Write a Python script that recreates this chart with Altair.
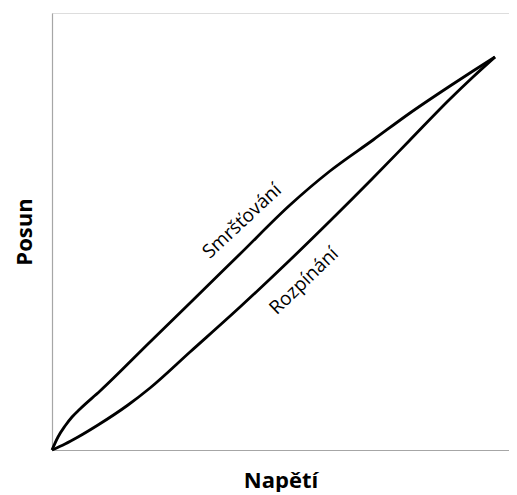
import altair as alt
import pandas as pd

# Upper branch (Smršťování)
up_x = [0, 6, 13, 20, 28, 48, 98, 138, 188, 238, 278, 321, 358, 398, 421, 443]
up_y = [0, 13, 24, 33, 41, 59, 108, 147, 196, 245, 279, 310, 337, 364, 379, 393]
# Lower branch (Rozpínání)
lo_x = [0, 13, 26, 46, 76, 98, 138, 188, 238, 278, 321, 358, 398, 421, 443]
lo_y = [0, 6, 13, 25, 45, 62, 98, 143, 190, 229, 272, 310, 351, 373, 393]

label_text = ["Smršťování", "Rozpínání"]
label_x = [190, 252]
label_y = [229, 169]

rows = []
for i, (x, y) in enumerate(zip(up_x, up_y)):
    rows.append({"x": x, "y": y, "branch": "up", "o": i})
for i, (x, y) in enumerate(zip(lo_x, lo_y)):
    rows.append({"x": x, "y": y, "branch": "lo", "o": i})
df = pd.DataFrame(rows)
labels = pd.DataFrame({"t": label_text, "x": label_x, "y": label_y})

xs = alt.Scale(domain=[0, 457], nice=False, zero=False)
ys = alt.Scale(domain=[0, 437], nice=False, zero=False)

axis_common = dict(labels=False, ticks=False, grid=False, domainColor="#a6a6a6",
                   domainWidth=1.2, titleFont="Open Sans", titleFontWeight="bold",
                   titleColor="black")

lines = alt.Chart(df).mark_line(color="black", strokeWidth=2.8, interpolate="monotone").encode(
    x=alt.X("x:Q", scale=xs, axis=alt.Axis(title="Napětí", titleFontSize=22, titlePadding=20, **axis_common)),
    y=alt.Y("y:Q", scale=ys, axis=alt.Axis(title="Posun", titleFontSize=22, titlePadding=16, **axis_common)),
    detail="branch:N",
    order="o:Q",
)

text1 = alt.Chart(labels.iloc[[0]]).mark_text(
    font="Open Sans", fontSize=19, angle=317, align="center", baseline="middle", color="black"
).encode(x=alt.X("x:Q", scale=xs), y=alt.Y("y:Q", scale=ys), text="t:N")

text2 = alt.Chart(labels.iloc[[1]]).mark_text(
    font="Open Sans", fontSize=19, angle=316, align="center", baseline="middle", color="black"
).encode(x=alt.X("x:Q", scale=xs), y=alt.Y("y:Q", scale=ys), text="t:N")

chart = alt.layer(lines, text1, text2).properties(
    width=457, height=437,
    autosize=alt.AutoSizeParams(type="none"),
    padding={"left": 44, "top": 5, "right": 0, "bottom": 42},
).configure_view(stroke=None).configure(background="white")

chart.save("out.html", embed_options={"renderer": "svg", "actions": False})
